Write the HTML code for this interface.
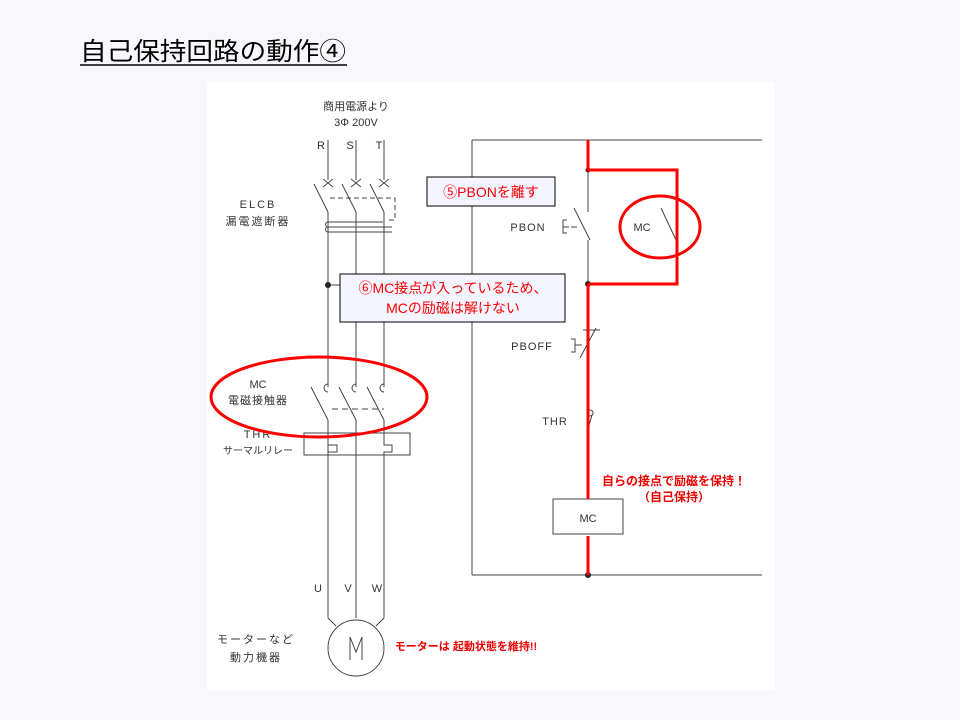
<!DOCTYPE html>
<html><head><meta charset="utf-8"><style>
body{margin:0;width:960px;height:720px;background:#f8f8fc;overflow:hidden;font-family:"Liberation Sans","Noto Sans CJK JP",sans-serif}
svg{position:absolute;left:0;top:0}
</style></head><body>
<svg width="960" height="720" viewBox="0 0 960 720" font-family="Liberation Sans, Noto Sans CJK JP, sans-serif">
<text x="80" y="60" font-size="25" fill="#000" textLength="266" lengthAdjust="spacingAndGlyphs">自己保持回路の動作④</text>
<line x1="80" y1="65" x2="347" y2="65" stroke="#000" stroke-width="1.5"/>
<rect x="207" y="82" width="568" height="608" fill="#fff"/>
<g fill="#333" font-size="11" text-anchor="middle">
<text x="356" y="110">商用電源より</text>
<text x="356" y="126">3Φ  200V</text>
<text x="321" y="149">R</text><text x="350" y="149">S</text><text x="379" y="149">T</text>
<text x="258" y="208" letter-spacing="2">ELCB</text>
<text x="258" y="225" letter-spacing="2">漏電遮断器</text>
<text x="258" y="388">MC</text>
<text x="258" y="404" letter-spacing="1">電磁接触器</text>
<text x="258" y="438" letter-spacing="2">THR</text>
<text x="258" y="454" font-size="10">サーマルリレー</text>
<text x="318" y="592">U</text><text x="348" y="592">V</text><text x="377" y="592">W</text>
<text x="256" y="643" letter-spacing="2">モーターなど</text>
<text x="256" y="661" letter-spacing="2">動力機器</text>
<text x="528" y="231" letter-spacing="1">PBON</text>
<text x="532" y="350" letter-spacing="1">PBOFF</text>
<text x="555" y="425" letter-spacing="1">THR</text>
<text x="642" y="231">MC</text>
<text x="588" y="522">MC</text>
</g>
<g stroke="#444" stroke-width="1" fill="none">
<path d="M328 140V180M356 140V180M384 140V180"/>
<path d="M323 179l10 8M333 179l-10 8M351 179l10 8M361 179l-10 8M379 179l10 8M389 179l-10 8"/>
<path d="M314 184L328 212M342 184L356 212M370 184L384 212"/>
<path d="M328 212V387M356 212V387M384 212V387"/>
<path d="M330 198H395V220H386" stroke-dasharray="5,3"/>
<path d="M328 222H383M328 227H392M328 232H392"/>
<path d="M328 222a2.5 2.5 0 0 0 0 5a2.5 2.5 0 0 0 0 5"/>
<path d="M328 380v4a4 4 0 0 0 0 8M356 380v4a4 4 0 0 0 0 8M384 380v4a4 4 0 0 0 0 8"/>
<path d="M311 387L328 420M339 387L356 420M367 387L384 420"/>
<path d="M332 409H384" stroke-dasharray="6,4"/>
<rect x="304" y="433" width="106" height="22"/>
<path d="M328 420V437M356 420V618M384 420V437"/>
<path d="M328 437V452H337V445H328V618L336 626"/>
<path d="M384 437V445H392V452H384V618L376 626"/>
<circle cx="356" cy="648" r="28"/>
<path d="M350 660V637L356 652L362 637V660"/>
<line x1="328" y1="285" x2="340" y2="285"/>
<path d="M472 140V575M472 140H762M472 575H762"/>
<path d="M588 170V212M574 208L590 240M588 240V284"/>
<path d="M567 220H563V233H567M563 227H569M571 227H577"/>
<path d="M661 208L676 240"/>
<path d="M596 328L580 358M583 330H600"/>
<path d="M571 339H575V352H571M575 345H582"/>
<circle cx="590" cy="413" r="3"/>
<path d="M592 415L587 432"/>
<rect x="553" y="499" width="70" height="35"/>
</g>
<g fill="#222"><circle cx="328" cy="285" r="3"/><circle cx="588" cy="170" r="2.5"/><circle cx="588" cy="284" r="3"/><circle cx="588" cy="575" r="3"/></g>
<g stroke="#f00" stroke-width="3" fill="none">
<path d="M588 140V170H677V284H588"/>
<path d="M588 284V499M588 536V575"/>
<ellipse cx="319" cy="397" rx="108" ry="40"/>
<ellipse cx="660" cy="227" rx="40" ry="31"/>
</g>
<rect x="340" y="274" width="225" height="48" fill="#f5f5ff" stroke="#000"/>
<g fill="#f00" font-size="14" text-anchor="middle">
<text x="453" y="293">⑥MC接点が入っているため、</text>
<text x="453" y="313">MCの励磁は解けない</text>
</g>
<rect x="427" y="177" width="128" height="29" fill="#f5f5ff" stroke="#000"/>
<text x="491" y="197" fill="#f00" font-size="14" text-anchor="middle">⑤PBONを離す</text>
<g fill="#e00" font-weight="bold" font-size="12" text-anchor="middle">
<text x="674" y="485">自らの接点で励磁を保持！</text>
<text x="674" y="501">（自己保持）</text>
<text x="466" y="650" font-size="11">モーターは 起動状態を維持!!</text>
</g>
</svg>
</body></html>
